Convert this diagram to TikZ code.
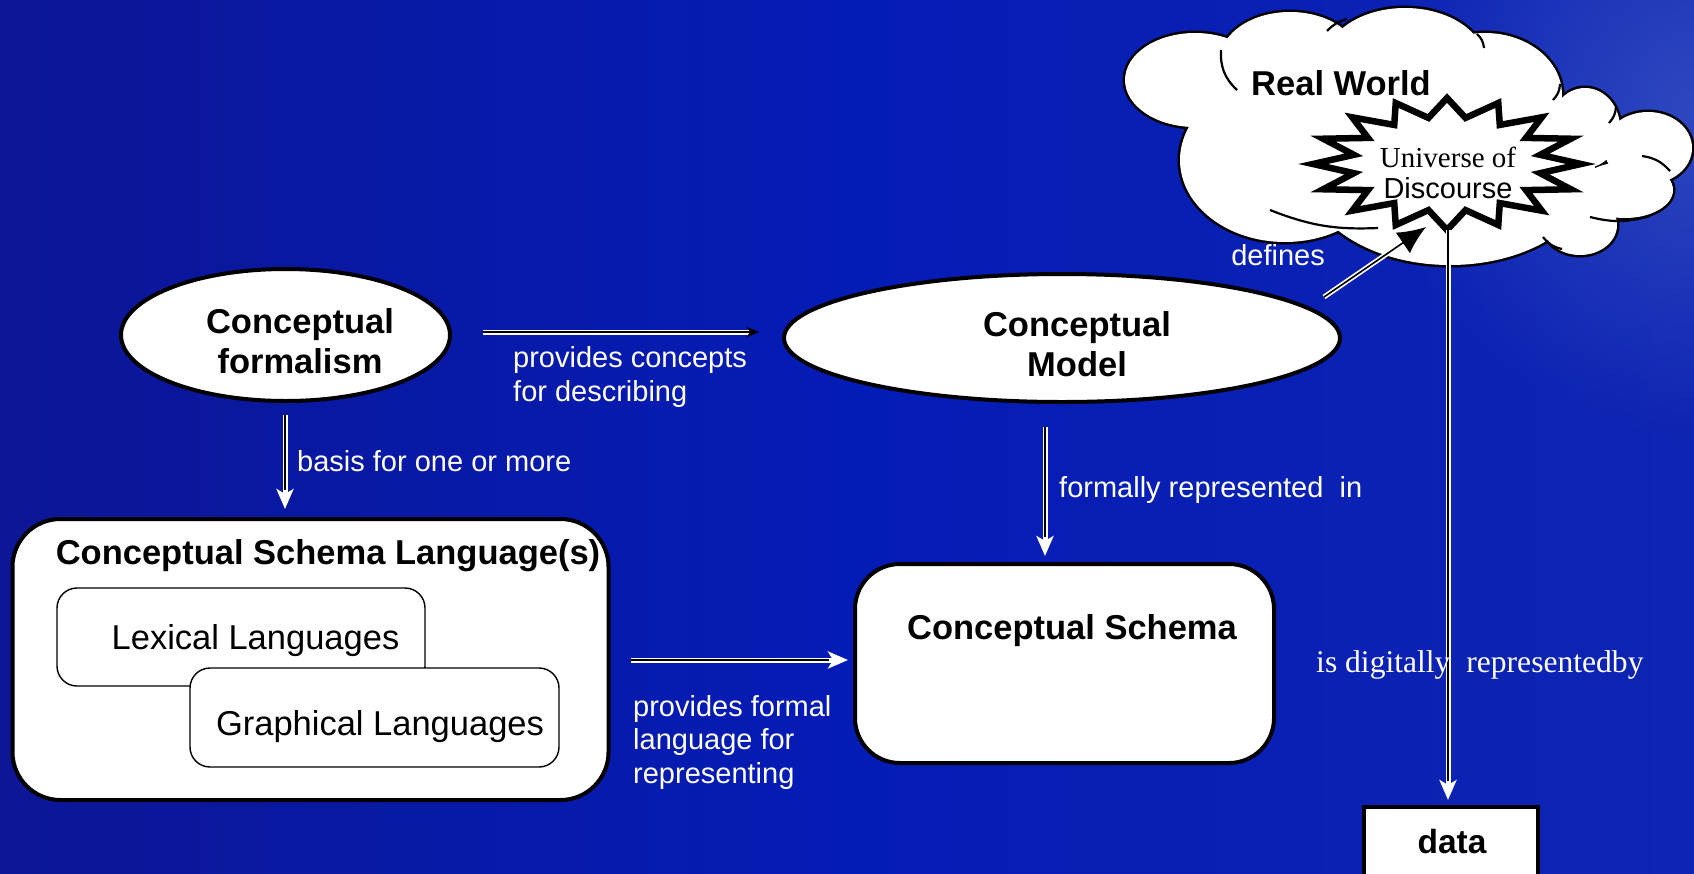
\documentclass[tikz,border=0pt]{standalone}
\usepackage{fontspec}
\setmainfont{Liberation Sans}
\newfontfamily\tnr{Liberation Serif}
\usetikzlibrary{shapes.geometric,arrows.meta,calc,fadings}
\definecolor{bgA}{RGB}{12,22,150}
\definecolor{bgB}{RGB}{4,28,182}
\definecolor{bgC}{RGB}{14,36,178}
\definecolor{glow}{RGB}{100,130,215}
\tikzfading[name=glowfade, inner color=transparent!0, outer color=transparent!100]
\begin{document}
\begin{tikzpicture}[x=1pt,y=-1pt,
  ellnode/.style={ellipse, draw=black, line width=4pt, fill=white, inner sep=0pt},
  bigbox/.style={rectangle, draw=black, line width=4pt, fill=white, inner sep=0pt},
  smallbox/.style={rectangle, draw=black, line width=1.4pt, fill=white, inner sep=0pt, rounded corners=20pt},
  bftext/.style={font=\fontsize{34.5}{40}\selectfont\bfseries, text=black, align=center, inner sep=0pt},
  rgtext/.style={font=\fontsize{34.5}{40}\selectfont, text=black, align=center, inner sep=0pt},
  lbl/.style={font=\fontsize{29}{33.5}\selectfont, text=white, align=left, inner sep=0pt},
  wl/.style={draw=white, line width=5pt},
  kc/.style={draw=black, line width=1.6pt},
  wtip/.style={-{Stealth[length=20pt, width=17pt, inset=5pt]}},
  puff/.style={draw=black, line width=5pt, fill=white},
  inner/.style={draw=black, line width=2.2pt}
]
\useasboundingbox (0,0) rectangle (1694,873);
\shade[left color=bgA, right color=bgC, middle color=bgB] (0,0) rectangle (1694,873);
\fill[glow, path fading=glowfade, opacity=0.38] (1694,110) ellipse[x radius=320pt, y radius=330pt];

% ---- nodes ----
\node[ellnode, minimum width=329pt, minimum height=132pt] (cf) at (285.5,335) {};
\node[bftext] (cftext) at (300,341) {Conceptual\\formalism};

\node[ellnode, minimum width=556pt, minimum height=128pt] (cm) at (1062,338) {};
\node[bftext] (cmtext) at (1077,344) {Conceptual\\Model};

\node[bigbox, rounded corners=48pt, minimum width=596pt, minimum height=281pt] (csl) at (310.5,659.5) {};
\node[smallbox, minimum width=368pt, minimum height=98pt] (lex) at (241,637) {};
\node[rgtext] (lextext) at (255.5,640.5) {Lexical Languages};
\node[smallbox, minimum width=369pt, minimum height=99pt] (gra) at (374.5,717.5) {};
\node[rgtext] (gratext) at (380,727) {Graphical Languages};
\node[bftext] (csltext) at (328,556) {Conceptual Schema Language(s)};

\node[bigbox, rounded corners=45pt, minimum width=419pt, minimum height=199pt] (cs) at (1064.5,663.5) {};
\node[bftext] (cstext) at (1072,631) {Conceptual Schema};

\node[bigbox, minimum width=174pt, minimum height=100pt, anchor=north] (data) at (1451,805) {};
\node[bftext, font=\fontsize{33.5}{38}\selectfont\bfseries] (datatext) at (1452,842) {data};

% ---- cloud ----
\foreach \cx/\cy/\rx/\ry in {1195/80/70/47, 1290/60/70/48, 1405/62/80/54, 1485/95/77/62,
  1585/128/35/40, 1648/148/44/36, 1625/190/48/28, 1580/225/37/30, 1450/170/145/95, 1285/160/105/82}
  \draw[puff] (\cx,\cy) ellipse[x radius=\rx pt, y radius=\ry pt];
\foreach \cx/\cy/\rx/\ry in {1195/80/70/47, 1290/60/70/48, 1405/62/80/54, 1485/95/77/62,
  1585/128/35/40, 1648/148/44/36, 1625/190/48/28, 1580/225/37/30, 1450/170/145/95, 1285/160/105/82}
  \fill[white] (\cx,\cy) ellipse[x radius=\rx pt, y radius=\ry pt];
\draw[inner] (1221,50) to[bend right=25] (1237,90);
\draw[inner] (1327,31) to[bend left=15] (1347,19);
\draw[inner] (1477,34) to[bend left=20] (1484,48);
\draw[inner] (1560,84) to[bend left=20] (1553,100);
\draw[inner] (1616,106) to[bend left=20] (1609,123);
\draw[inner] (1642,156) to[bend left=20] (1670,171);
\draw[inner] (1650,216) to[bend left=15] (1590,217);
\draw[inner] (1543,237) to[bend right=20] (1562,249);
\draw[inner] (1270,210) to[bend right=12] (1378,228);
\node[bftext] (rw) at (1341,83) {Real World};

% ---- defines arrow (under the starburst) ----
\node[ellipse, minimum width=266pt, minimum height=130pt, inner sep=0pt] (uod) at (1447,163) {};
\draw[wl, shorten >=22pt] ($(cm.east)+(-18,-41)$) -- ($(uod.center)+(-21,64)$);
\draw[kc, -{Latex[length=28pt, width=25pt]}] ($(cm.east)+(-18,-41)$) -- ($(uod.center)+(-21,64)$);

% ---- starburst ----
\draw[draw=black, fill=white, line width=6.5pt, line join=miter, miter limit=10]
  plot[variable=\k, samples at={0,...,31}]
  ({1447 + (mod(\k,2)==0 ? 134 : 95)*cos(\k*11.25+90)}, {164 - (mod(\k,2)==0 ? 66 : 47)*sin(\k*11.25+90)}) -- cycle;
\node[align=center, font=\fontsize{29}{31}\selectfont, inner sep=0pt] (uodtext) at (1448,173) {{\tnr Universe of}\\Discourse};

% ---- connectors ----
% formalism -> model
\draw[wl, shorten >=8pt] ($(cf.east)+(31,-3)$) -- ($(cm.west)+(-23,-6)$);
\draw[kc, -{Stealth[length=13pt, width=11pt]}] ($(cf.east)+(31,-3)$) -- ($(cm.west)+(-23,-6)$);
% formalism -> CSL
\draw[wl, wtip] ($(cf.south)+(-0.5,11.5)$) -- ($(cf.south |- csl.north)+(-0.5,-8)$);
\draw[kc, shorten >=19pt] ($(cf.south)+(-0.5,11.5)$) -- ($(cf.south |- csl.north)+(-0.5,-8)$);
% model -> schema
\draw[wl, wtip] ($(cm.south)+(-17,23)$) -- ($(cm.south |- cs.north)+(-17,-6)$);
\draw[kc, shorten >=19pt] ($(cm.south)+(-17,23)$) -- ($(cm.south |- cs.north)+(-17,-6)$);
% CSL -> schema
\draw[wl, wtip] ($(csl.east)+(20,0.5)$) -- ($(cs.west)+(-5,-3.5)$);
\draw[kc, shorten >=19pt] ($(csl.east)+(20,0.5)$) -- ($(cs.west)+(-5,-3.5)$);
% UoD -> data
\draw[wl, wtip] ($(uod.south)+(1,2)$) -- ($(uod.south |- data.north)+(1,-5)$);
\draw[kc, shorten >=19pt] ($(uod.south)+(1,2)$) -- ($(uod.south |- data.north)+(1,-5)$);

% ---- labels ----
\node[lbl, anchor=west] (l1) at (513,377) {provides concepts\\for describing};
\node[lbl, anchor=west] (l2) at (297,461) {basis for one or more};
\node[lbl, anchor=west] (l3) at (1059,490) {formally represented~ in};
\node[lbl, anchor=west] (l4) at (633,742) {provides formal\\language for\\representing};
\node[lbl] (l5) at (1278,255) {defines};
\node[lbl, anchor=west, font=\fontsize{31.6}{35}\selectfont\tnr] (l6) at (1316,665) {is digitally~ representedby};
\end{tikzpicture}
\end{document}
